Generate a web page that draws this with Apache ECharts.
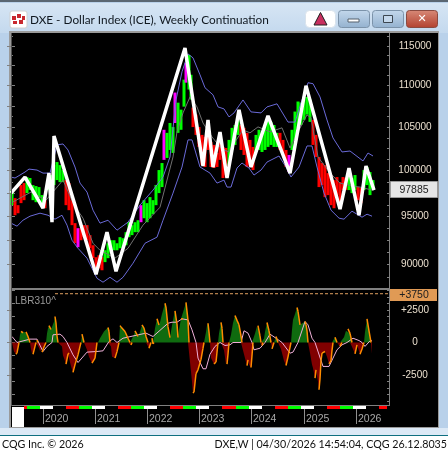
<!DOCTYPE html>
<html>
<head>
<meta charset="utf-8">
<title>DXE - Dollar Index (ICE), Weekly Continuation</title>
<script src="https://cdn.jsdelivr.net/npm/echarts@6/dist/echarts.min.js"></script>
<style>
  html, body { margin: 0; padding: 0; background: #fff; }
  #main { width: 448px; height: 453px; }
</style>
</head>
<body>
<div id="main"></div>
<script>
// x is the week number of the chart (one week is about one pixel)
var yearWeeks = [32, 84, 136, 188, 240, 293, 345];
var yearLabels = ["2020", "2021", "2022", "2023", "2024", "2025", "2026"];

var priceLabels = [90000, 95000, 100000, 105000, 110000, 115000];
var oscLabels = [-2500, 0, 2500];

// weekly bars, thinned out to every third week
var barWeeks = [1,4,7,10,13,16,19,22,25,28,31,34,37,40,43,46,49,52,55,58,61,64,67,70,73,76,79,82,85,88,91,94,97,100,103,106,109,112,115,118,121,124,127,130,133,136,139,142,145,148,151,153,156,159,162,164,167,170,173,175,178,180,182,185,188,191,194,197,200,203,206,209,212,215,218,221,224,227,230,233,236,239,242,245,248,251,254,257,260,263,266,269,272,275,278,281,284,287,290,293,296,299,302,305,308,311,314,317,320,323,326,329,332,335,338,341,344,347,350,353,356,359,362];
var barHighs = [97850,96970,96210,98400,98620,99290,99180,98400,98290,98180,97300,96750,98950,99510,100630,100970,100630,100070,98950,98620,96750,94290,93760,93760,94080,94080,93030,91980,90760,90960,90760,91470,92190,92500,92500,92190,92820,92710,93340,94390,94080,94390,94600,96210,96750,96430,97080,96750,98400,100070,100860,104690,104330,105490,105010,109150,107920,107080,110740,112840,113850,111350,107320,106490,105010,104090,103860,104690,103280,102930,102010,103280,102700,102580,103510,104920,105250,106100,105250,104920,104330,103510,102700,104090,104690,104330,105250,105860,105620,105250,104330,104330,103510,102350,101780,104690,106850,108060,107920,108300,108620,108300,105860,104090,101550,100860,100630,99730,99510,98950,99290,98730,99290,99180,99730,99180,99510,98180,98070,100070,100410,99850,98950];
var barLows = [96210,95130,95340,96430,96750,97520,97850,96750,96530,96970,95990,95880,97850,97850,98400,98950,98730,98730,96210,95670,94080,92190,91780,92500,92820,92500,91670,90660,89440,89640,89440,90260,90660,91270,91470,91470,91670,91670,91980,92820,93030,93340,93340,94390,94810,94390,94810,95240,96210,97520,98180,101220,101440,102350,102010,105490,104330,104690,107440,110370,109520,108300,105010,104090,102700,100630,100410,102350,100410,100300,100410,101220,99180,99510,100630,102350,102930,104090,102350,101780,100410,100630,100070,102120,102350,102120,102350,102700,102930,102700,102700,102350,101780,100410,99850,102350,103510,104920,105250,105860,106490,105620,102930,101550,98180,98400,97080,97300,96210,95880,97300,96430,97850,97850,97850,97520,97850,96750,96430,97850,98400,97300,97850];
var barColors = "g" + "rrrr" + "gggggg" + "r" + "gggggg" + "rrrr" + "m" + "rrrrrrrr" + "gggggggggggg" + "m" + "ggggggg" + "m" + "ggg" + "m" + "ggg" + "m" + "gg" + "rrrrrrrrrrrr" + "gggg" + "rrrrr" + "gggggggg" + "rrr" + "m" + "ggggggg" + "rrrrrrrrrrrr" + "ggg" + "rr" + "gggg";

var upperWeeks = [0,4,14,18,26,32,39,46,52,57,64,69,76,82,89,97,106,117,129,142,152,159,165,171,177,179,182,189,194,202,207,213,218,223,232,240,250,256,266,277,284,291,297,302,309,316,322,331,339,352,357,362];
var upperBand = [99290,99180,99850,100180,100070,99730,99730,102930,103040,102350,100410,98620,97630,95670,94290,94600,93550,94390,96210,97850,99290,101550,108250,111720,113980,113860,113480,111340,109740,108870,107410,107170,106210,106690,108250,106810,106690,107410,107780,105600,105600,108250,110360,110240,108620,105850,103740,102120,102230,101100,102000,101660];

var lowerWeeks = [0,6,12,19,29,37,44,51,56,61,67,76,81,86,92,99,106,112,122,134,146,152,162,171,177,181,189,199,206,213,216,220,226,231,238,243,250,256,268,275,280,288,296,301,306,313,320,328,333,341,351,356,361];
var lowerBand = [94290,93970,94600,95030,95350,95130,94710,95130,94080,92500,91670,90660,89640,88640,88250,88740,88250,88740,90150,92190,92820,94600,97520,100410,103510,103510,100410,99730,98620,98950,98180,98180,100300,100860,100300,99510,100070,100970,101660,100410,99290,100410,102810,102810,100410,97520,95670,94820,94710,95560,94920,95240,95030];

var middleWeeks = [0,9,20,35,52,63,72,82,89,104,117,132,149,162,166,172,179,186,192,201,209,217,224,232,239,247,259,271,279,287,296,300,307,319,329,341,349,361];
var middleBand = [96430,96970,97630,96750,98950,96210,94820,92190,91470,90660,91670,94080,95990,101550,104450,106690,108620,107410,105490,103860,102700,102120,103280,104680,104330,105030,104450,104920,102580,104450,106450,106090,101550,99730,98620,98290,98180,97850];

var swingWeeks = [0,14,32,38,41,43,85,96,105,174,192,197,202,209,216,228,240,257,279,295,329,338,348,355,363];
var swingPrices = [97520,99290,95890,99730,94390,103970,89040,93340,89340,114750,100520,105850,100410,104430,99180,107050,100410,106330,99730,109990,95780,100300,95130,100520,97850];

var oscWeeks = [
  1,2,3,5,6,8,
  9,10,12,14,15,17,19,
  20,21,22,24,25,
  26,27,
  28,29,31,33,35,
  36,37,38,40,41,43,44,45,46,47,
  49,51,52,53,55,57,58,60,62,64,67,69,70,
  71,73,
  74,76,78,81,84,86,
  87,89,93,97,98,99,
  100,101,104,106,108,
  109,110,114,117,119,
  120,121,
  123,124,127,129,131,133,135,137,
  138,140,141,142,143,
  144,146,148,149,151,154,155,157,159,161,163,164,166,167,168,170,172,174,175,177,178,
  179,181,182,183,184,185,187,190,192,193,
  195,196,197,198,199,
  200,203,205,207,
  208,210,211,212,
  213,215,216,217,218,
  220,222,224,226,228,230,231,
  232,233,235,236,237,238,240,241,242,
  244,246,247,249,250,
  251,252,
  253,254,256,258,260,
  261,263,265,267,
  268,270,273,275,277,280,
  281,282,284,286,287,289,291,294,295,296,297,
  299,301,302,304,305,307,308,309,310,311,314,316,318,320,321,322,
  324,326,329,331,
  333,335,337,339,341,
  342,344,346,349,351,353,
  354,356,358,360,361
];
var oscValues = [
  0,-100,-690,-900,-800,0,
  600,850,750,790,820,460,0,
  -500,-850,-900,-300,0,
  200,0,
  -400,-650,-740,-350,0,
  700,1100,1300,1000,1000,1600,2000,1500,500,0,
  -100,-300,-1000,-1200,-1660,-900,-800,-1800,-2300,-1700,-950,-300,0,
  640,0,
  0,-560,-1100,-1590,-1200,0,
  0,330,850,1150,850,0,
  -300,-1100,-1200,-700,0,
  1300,1200,850,330,0,
  -200,0,
  600,900,460,800,1350,1100,460,0,
  -440,0,330,-100,0,
  1100,1820,1350,1560,2200,3020,2700,1200,380,1300,2100,2430,1400,380,1000,1820,1800,2800,3080,1700,0,
  -1500,-3000,-3890,-3800,-3100,-2400,-2100,-1300,-440,0,
  800,1300,1480,800,0,
  -1200,-1660,-1500,0,
  700,1540,1100,0,
  -600,-1650,-1660,-900,0,
  600,1500,2070,1700,1360,500,0,
  0,-900,-1500,-1770,-1330,-1700,-1920,-1000,0,
  700,1250,1300,500,0,
  -230,0,
  300,800,1540,900,0,
  -490,0,460,0,
  0,-500,-1400,-1770,-1100,0,
  1000,1740,2200,2690,2400,1360,1500,1610,1400,900,0,
  -800,-1700,-1970,-2740,-2100,-3000,-3630,-2800,-1400,-820,-690,-1100,-1640,-1400,-600,0,
  410,0,-300,0,
  400,900,1050,700,0,
  -500,-870,-180,-900,-500,0,
  800,1820,900,0,-870
];

var signalWeeks = [1,6,19,26,32,36,41,42,49,52,56,62,67,76,86,92,98,102,106,112,135,142,157,161,166,171,177,181,185,187,192,195,199,204,209,214,219,222,230,233,237,241,243,249,254,259,264,271,279,282,287,294,297,301,304,312,318,322,326,331,336,342,348,351,354,359,361];
var signalValues = [460,0,260,260,-690,-300,0,590,640,460,0,-950,-1540,-740,-690,-640,80,280,0,330,720,460,1480,1560,1560,1820,1740,970,0,-1200,-2020,-2020,-900,-300,0,-230,-180,0,0,900,720,0,-560,-440,0,640,380,0,-820,-740,0,1610,1360,330,0,-1840,-1840,-1200,-560,-180,0,330,150,0,-300,130,130];

var limitWeeks = [44, 378];
var limitValues = [3750, 3750];

// the season strip under the lower panel
var stripWeeks = [13,16,29,42,55,68,81,94,107,120,133,146,159,172,185,198,211,225,238,251,264,277,290,303,316,329,342,355,368,376];
var stripColors = ["#ff0000","#00ff00","#ffffff","#000000"];

var pairs = function (xs, ys) {
  return xs.map(function (x, i) { return [x, ys[i]]; });
};

var barData = barWeeks.map(function (w, i) {
  return [w, barHighs[i], barLows[i], { g: "#00ff00", r: "#ff0000", m: "#ff00ff" }[barColors[i]]];
});
var stripData = stripWeeks.slice(0, -1).map(function (w, i) {
  return [w, stripWeeks[i + 1], stripColors[i % 4]];
});

// the orange edge only shows where the oscillator moves back toward zero
var orangeEdge = [];
oscWeeks.forEach(function (w, i) {
  if (i == oscWeeks.length - 1) return;
  var a = oscValues[i], b = oscValues[i + 1];
  if (Math.abs(b) < Math.abs(a)) {
    orangeEdge.push([w, a], [oscWeeks[i + 1], b], [oscWeeks[i + 1], null]);
  }
});

var AXIS_FONT = '"Liberation Sans", sans-serif';
var UI_FONT = 'Lato, "Open Sans", sans-serif';
var GREY = "#808080";

var priceMin = 87680, priceMax = 116685;
var oscMin = -4806, oscMax = 4037;

function range(from, to, step) {
  var out = [];
  for (var v = from; v <= to; v += step) out.push(v);
  return out;
}

function priceAxis(position, ticks, len, labels) {
  return {
    type: "log", gridIndex: 0, position: position, min: priceMin, max: priceMax,
    axisLine: { show: false }, splitLine: { show: false }, minorTick: { show: false },
    axisTick: { show: true, inside: true, length: len, customValues: ticks, lineStyle: { color: GREY } },
    axisLabel: labels
      ? { show: true, customValues: labels, color: "#eadfce", fontFamily: AXIS_FONT, fontSize: 10, align: "center", margin: 26, formatter: function (v) { return String(Math.round(v)); } }
      : { show: false }
  };
}

function oscAxis(position, ticks, len, labels) {
  return {
    type: "value", gridIndex: 1, position: position, min: oscMin, max: oscMax,
    axisLine: { show: false }, splitLine: { show: false },
    axisTick: { show: true, inside: true, length: len, customValues: ticks, lineStyle: { color: GREY } },
    axisLabel: labels
      ? { show: true, customValues: labels, color: "#eadfce", fontFamily: AXIS_FONT, fontSize: 10, align: "center", margin: 26, formatter: function (v) { return v > 0 ? "+" + v : String(v); } }
      : { show: false }
  };
}

function hiddenX(grid) {
  return { type: "value", gridIndex: grid, min: 0, max: 378, show: false };
}

function lineSeries(name, data, color, width, z) {
  return {
    name: name, type: "line", xAxisIndex: 0, yAxisIndex: 0, data: data,
    showSymbol: false, symbol: "none", z: z, silent: true,
    lineStyle: { color: color, width: width }
  };
}

function oscLine(name, data, color, width, z) {
  var s = lineSeries(name, data, color, width, z);
  s.xAxisIndex = 1;
  s.yAxisIndex = 4;
  return s;
}

function oscArea(name, data, color) {
  var s = oscLine(name, data, color, 0, 3);
  s.areaStyle = { color: color, opacity: 1 };
  return s;
}

function rect(x, y, w, h, fill, z, r, stroke) {
  return { type: "rect", shape: { x: x, y: y, width: w, height: h, r: r || 0 }, style: { fill: fill, stroke: stroke || null, lineWidth: stroke ? 1 : 0 }, z: z || 0, silent: true };
}

function label(text, x, y, font, color, align, z) {
  return { type: "text", x: x, y: y, z: z || 20, silent: true, style: { text: text, font: font, fill: color, align: align || "left", verticalAlign: "middle" } };
}

function barGradient(top, bottom) {
  return { type: "linear", x: 0, y: 0, x2: 0, y2: 1, colorStops: [{ offset: 0, color: top }, { offset: 1, color: bottom }] };
}

var chrome = [
  // window frame
  rect(0, 0, 448, 436, "#b9d1ea", -10),
  rect(0, 3, 448, 30, barGradient("#d6e5f4", "#c4d9ee"), -9),
  rect(0, 0, 448, 2, "#5a6672", -9),
  rect(9, 31, 430, 397, "#9a9a9a", -8),
  rect(11, 33, 427, 394, "#000000", -7),
  rect(0, 428, 448, 7, "#dce9f6", -7),
  rect(0, 435, 448, 1, "#0f6f80", -7),
  rect(0, 436, 448, 17, "#ffffff", -7),
  // icon
  rect(10, 11, 17, 17, "#ffffff", 20, 2, "#d0d0d0"),
  rect(12, 16, 4, 4, "#c8282e", 21),
  rect(17, 14, 4, 4, "#c8282e", 21),
  rect(22, 16, 3, 4, "#c8282e", 21),
  rect(13, 21, 4, 3, "#c8282e", 21),
  rect(19, 20, 4, 4, "#c8282e", 21),
  // title
  label("DXE - Dollar Index (ICE), Weekly Continuation", 30, 20, '11.8px ' + UI_FONT, "#101820"),
  // title bar buttons
  rect(305.5, 10.5, 30, 17, "#ffffff", 20, 4, "#d8e2ec"),
  { type: "polygon", z: 21, silent: true, shape: { points: [[320.5, 12.5], [314, 25], [327, 25]] }, style: { fill: "#c8305f", stroke: "#202020", lineWidth: 1 } },
  rect(338.5, 10.5, 31, 17, barGradient("#c4d8ec", "#93b1cf"), 20, 3, "#7c93aa"),
  rect(348, 19, 11, 3, "#ffffff", 21, 0, "#55606c"),
  rect(372.5, 10.5, 31, 17, barGradient("#c4d8ec", "#93b1cf"), 20, 3, "#7c93aa"),
  rect(383.5, 15.5, 9, 7, "#c4d8ec", 21, 0, "#3c4650"),
  rect(406.5, 10.5, 31, 17, barGradient("#d88a78", "#b2402e"), 20, 3, "#8a4a40"),
  label("\u2715", 422, 19, 'bold 11px "DejaVu Sans"', "#ffffff", "center", 21),
  // panel separator and frame lines
  rect(11, 288, 378, 2, GREY, 15),
  rect(389, 33, 1, 373, GREY, 15),
  rect(11, 405, 379, 1, GREY, 15),
  rect(11, 33, 1, 373, "#505050", 15),
  // boxes on the right and the corner
  rect(390.5, 181.5, 47, 16, "#e6e6e6", 16, 0, "#9a9a9a"),
  label("97885", 414, 190, '10.5px ' + AXIS_FONT, "#202020", "center"),
  rect(390, 289, 47, 12, "#e09a55", 16),
  label("+3750", 414, 295, '10.5px ' + AXIS_FONT, "#202020", "center"),
  rect(12, 407, 12, 20, "#ffffff", 16),
  label("LBR310^", 15, 301, '10px ' + AXIS_FONT, "#9a9a9a", "left"),
  // footer
  label("CQG Inc. \u00a9 2026", 2, 445, '10.7px ' + UI_FONT, "#101010"),
  label("DXE,W | 04/30/2026 14:54:04, CQG 26.12.8035", 447, 445, '10.7px ' + UI_FONT, "#101010", "right")
];

var myChart = echarts.init(document.getElementById("main"), null, { renderer: "canvas" });
var option = {
  animation: false,
  backgroundColor: "#ffffff",
  graphic: { elements: chrome },
  grid: [
    { left: 11, top: 33, width: 378, height: 255 },
    { left: 11, top: 290, width: 378, height: 115 },
    { left: 11, top: 406, width: 378, height: 3 }
  ],
  xAxis: [
    hiddenX(0),
    hiddenX(1),
    {
      type: "value", gridIndex: 2, min: 0, max: 378,
      axisLine: { show: false }, splitLine: { show: false },
      axisTick: { show: true, length: 15, customValues: yearWeeks, lineStyle: { color: "#909090" } },
      axisLabel: {
        show: true, customValues: yearWeeks, color: "#a8a8a8", fontFamily: AXIS_FONT, fontSize: 10.5,
        align: "left", margin: 5, padding: [0, 0, 0, 2],
        formatter: function (v) { return yearLabels[yearWeeks.indexOf(v)]; }
      }
    }
  ],
  yAxis: [
    priceAxis("right", range(90000, 115000, 2500), 4, priceLabels),
    priceAxis("right", range(88750, 116250, 1250), 2),
    priceAxis("left", range(90000, 115000, 2500), 4),
    priceAxis("left", range(88750, 116250, 1250), 2),
    oscAxis("right", oscLabels, 4, oscLabels),
    oscAxis("right", range(-4500, 4000, 500), 2),
    oscAxis("left", range(-4000, 4000, 1000), 4),
    { type: "value", gridIndex: 2, min: 0, max: 1, show: false }
  ],
  series: [
    {
      name: "bars", type: "custom", xAxisIndex: 0, yAxisIndex: 0, z: 2, silent: true,
      data: barData,
      encode: { x: 0, y: [1, 2] },
      renderItem: function (params, api) {
        var top = api.coord([api.value(0), api.value(1)]);
        var bottom = api.coord([api.value(0), api.value(2)]);
        return { type: "rect", shape: { x: top[0] - 1.5, y: top[1], width: 3, height: bottom[1] - top[1] }, style: { fill: barData[params.dataIndex][3] } };
      }
    },
    lineSeries("middle", pairs(middleWeeks, middleBand), "#707070", 1, 3),
    lineSeries("upper", pairs(upperWeeks, upperBand), "#6a6ad8", 1, 3),
    lineSeries("lower", pairs(lowerWeeks, lowerBand), "#6a6ad8", 1, 3),
    lineSeries("swing", pairs(swingWeeks, swingPrices), "#ffffff", 3.5, 5),
    oscArea("oscUp", pairs(oscWeeks, oscValues.map(function (v) { return Math.max(v, 0); })), "#0f6b0f"),
    oscArea("oscDown", pairs(oscWeeks, oscValues.map(function (v) { return Math.min(v, 0); })), "#800000"),
    oscLine("signal", pairs(signalWeeks, signalValues), "#f0b0d8", 1, 4),
    oscLine("edge", orangeEdge, "#ff8c00", 1.5, 5),
    (function () {
      var s = oscLine("limit", pairs(limitWeeks, limitValues), "#e0a060", 1, 5);
      s.lineStyle.type = [3, 2];
      return s;
    })(),
    {
      name: "strip", type: "custom", xAxisIndex: 2, yAxisIndex: 7, silent: true,
      data: stripData,
      encode: { x: [0, 1] },
      renderItem: function (params, api) {
        var a = api.coord([api.value(0), 1]);
        var b = api.coord([api.value(1), 0]);
        return { type: "rect", shape: { x: a[0], y: a[1], width: b[0] - a[0], height: b[1] - a[1] }, style: { fill: stripData[params.dataIndex][2] } };
      }
    }
  ]
};
myChart.setOption(option);
</script>
</body>
</html>
